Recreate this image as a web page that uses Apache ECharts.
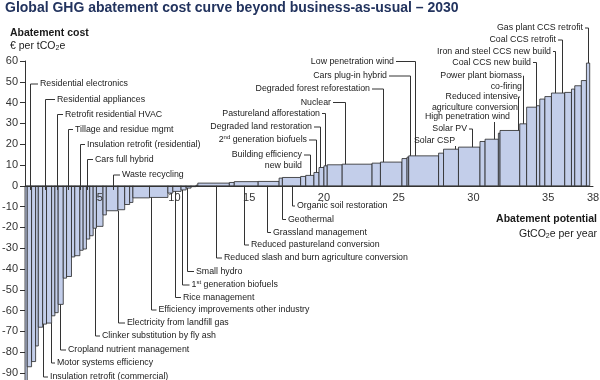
<!DOCTYPE html>
<html><head><meta charset="utf-8">
<script src="https://cdn.jsdelivr.net/npm/echarts@6/dist/echarts.min.js"></script>
<style>html,body{margin:0;padding:0;background:#fff;}#c{width:600px;height:380px;}</style>
</head><body><div id="c"></div>
<script>
// ---------- DATA ----------
// Width of each abatement lever (GtCO2e per year), left to right
const barWidths = [0.15,0.29,0.27,0.18,0.29,0.26,0.34,0.22,0.22,0.34,
  0.22,0.33,0.22,0.34,0.22,0.22,0.22,0.23,0.22,0.44,
  0.22,0.78,0.45,0.33,0.22,1.11,1.23,0.33,0.55,0.34,
  0.33,0.33,0.12,2.11,0.33,1.6,1.4,0.22,1.22,0.34,
  0.55,0.34,0.33,0.22,1.0,2.0,0.56,1.44,0.34,0.11,
  2.0,0.33,1.0,1.44,0.34,0.89,0.11,1.32,0.46,0.66,
  0.22,0.34,0.44,0.89,0.45,0.22,0.44,0.34,0.22];
// Abatement cost of each lever (€ per tCO2e)
const barCosts = [-95,-87,-84.5,-77,-68,-66.5,-66,-62.5,-61,-57,
  -44.4,-43.6,-34.2,-33.6,-31,-30.4,-25.6,-24,-20.4,-19.5,
  -14,-12,-11.5,-9,-8,-5.8,-5.6,-3.5,-2.7,-2,
  -1.1,-0.4,0.3,1.3,1.6,2.0,2.1,3.7,4.0,4.5,
  5.0,6.4,8.8,9.6,10.1,10.4,10.9,11.4,13.1,13.8,
  14.4,15.7,17.6,18.6,21.3,22.4,25.3,26.6,29.8,37.8,
  38.5,41.7,42.9,44.6,44.9,46.5,48.1,50.6,59];
const xTickLabels = [5,10,15,20,25,30,35,38];
const yTickLabels = [60,50,40,30,20,10,0,-10,-20,-30,-40,-50,-60,-70,-80,-90];

// Lever names and the abatement position (Gt) each label points to
const leverNames = [
  'Residential electronics','Residential appliances','Retrofit residential HVAC','Tillage and residue mgmt',
  'Insulation retrofit (residential)','Cars full hybrid','Waste recycling',
  'Insulation retrofit (commercial)','Motor systems efficiency','Cropland nutrient management',
  'Clinker substitution by fly ash','Electricity from landfill gas','Efficiency improvements other industry',
  'Rice management','1{sup|st} generation biofuels','Small hydro','Reduced slash and burn agriculture conversion',
  'Reduced pastureland conversion','Grassland management','Geothermal','Organic soil restoration',
  'Building efficiency\nnew build','2{sup|nd} generation biofuels','Degraded land restoration',
  'Pastureland afforestation','Nuclear','Degraded forest reforestation','Cars plug-in hybrid',
  'Low penetration wind','Solar CSP','Solar PV','High penetration wind',
  'Reduced intensive\nagriculture conversion','Power plant biomass\nco-firing','Coal CCS new build',
  'Iron and steel CCS new build','Coal CCS retrofit','Gas plant CCS retrofit'];
const leverTargets = [0.33,1.34,2.14,2.88,3.68,4.15,5.89,
  1.22,1.74,2.34,4.68,6.2,8.43,10.03,10.48,10.82,12.78,14.67,16.17,17.17,17.84,
  19.06,19.46,19.73,20.07,21.4,23.95,25.75,26.1,28.8,29.9,31.4,33.0,33.3,34.18,35.45,35.9,37.67];

// ---------- LAYOUT (pixels) ----------
// kind A: label right of a drop line; B: L-shaped line below; C: right-aligned label with line; D: line below label
const labelLayout = [
  ['A',40,84],['A',57,99.5],['A',65,114.5],['A',75,129.5],['A',87,144.5],['A',95,159.5],['A',122,175],
  ['B',50,377],['B',57,363],['B',68,350],['B',102,336],['B',127,323],['B',158.5,310],
  ['B',183,297.5],['B',191.5,285],['B',196,271.5],['B',224,258],['B',251,245],['B',273,232.5],['B',288,219.5],['B',297,206],
  ['C',302,155],['C',307,140],['C',312,127],['C',320,113.5],['C',331,102.5],['C',370,89],['C',387,76],['C',394,61.5],
  ['D',455,141],['C',467,129],['D',510,117],['C',518,97],['C',522,76],['C',531,62.5],['C',551,51.5],['C',556,40],['C',583,28]
];

const FONT = '"Liberation Sans", Arial, sans-serif';
const LFS = 8.8;
const GRID_TOP = 61, PX_PER_UNIT = 2.08, Y_MAX = 60;
const chart = echarts.init(document.getElementById('c'), null, {renderer:'canvas'});

let acc = 0;
const barData = barWidths.map((w,i)=>{ const s=acc; acc+=w; return [s, acc, barCosts[i]]; });

function costAt(v){
  for (const b of barData) if (v>=b[0] && v<b[1]) return b[2];
  return 0;
}

chart.setOption({
  animation:false,
  grid:{left:25, top:GRID_TOP, width:568, height:160*PX_PER_UNIT, containLabel:false, outerBoundsMode:'none'},
  xAxis:{type:'value', min:0, max:38, interval:1, z:5, position:'top', offset:-(Y_MAX*PX_PER_UNIT),
    axisLine:{show:true, onZero:false, lineStyle:{color:'#333', width:1}}, axisTick:{show:false}, splitLine:{show:false},
    axisLabel:{inside:true, fontSize:11, color:'#333', margin:7, fontFamily:FONT,
      formatter:v=> xTickLabels.indexOf(v)>=0 ? String(v) : ''}},
  yAxis:{type:'value', min:-100, max:60, interval:10,
    axisLine:{show:true, onZero:false, lineStyle:{color:'#333', width:1}},
    axisTick:{show:true, length:5, lineStyle:{color:'#333'}},
    splitLine:{show:false},
    axisLabel:{fontSize:11, color:'#333', margin:7, fontFamily:FONT,
      formatter:v=> yTickLabels.indexOf(v)>=0 ? String(v) : ''}},
  series:[{
    type:'custom', data:barData, encode:{x:[0,1], y:2},
    renderItem:function(params, api){
      const p0 = api.coord([api.value(0), 0]);
      const p1 = api.coord([api.value(1), api.value(2)]);
      return {type:'rect', shape:{x:p0[0], y:Math.min(p0[1],p1[1]), width:p1[0]-p0[0], height:Math.abs(p1[1]-p0[1])},
        style:{fill:'#c3ceea', stroke:'#262626', lineWidth:0.8}};
    }
  }]
});

const toPx = (v,c)=>chart.convertToPixel({gridIndex:0},[v,c]);
const rich = {sup:{fontSize:6, verticalAlign:'top', fontFamily:FONT, fill:'#1a1a1a'}};
const g = [];
const LC = '#333';
function line(pts){ g.push({type:'polyline', shape:{points:pts}, style:{stroke:LC, lineWidth:1, fill:null}, z:10}); }
function text(x,y,t,align){
  const multi = t.indexOf('\n')>=0;
  g.push({type:'text', x:x, y: multi ? y-5.5 : y, z:11,
    style:{text:t, fill:'#1a1a1a', font:LFS+'px '+FONT, fontSize:LFS, fontFamily:FONT,
      align:align, textAlign:align, verticalAlign: multi?'top':'middle', textVerticalAlign: multi?'top':'middle',
      lineHeight:11, rich:rich}});
}

leverNames.forEach((name,i)=>{
  const [kind, tx, ty] = labelLayout[i];
  const v = leverTargets[i];
  const c = costAt(v);
  const lx = Math.round(toPx(v,0)[0])+0.5;
  const zeroY = toPx(v,0)[1];
  const barY = toPx(v,c)[1];
  if (kind==='A'){
    const endY = toPx(v,-2)[1];
    line([[tx-2,ty],[lx,ty],[lx,endY]]);
    text(tx,ty,name,'left');
  } else if (kind==='B'){
    const startY = c<0 ? barY : zeroY;
    line([[lx,startY],[lx,ty],[tx-2,ty]]);
    text(tx,ty,name,'left');
  } else if (kind==='C'){
    line([[tx+2,ty],[lx,ty],[lx,barY]]);
    text(tx,ty,name,'right');
  } else {
    line([[lx,ty+5],[lx,barY]]);
    text(tx,ty,name,'right');
  }
});

// Titles
g.push({type:'text', x:5, y:8.5, style:{text:'Global GHG abatement cost curve beyond business-as-usual \u2013 2030',
  fill:'#22335e', font:'bold 14px '+FONT, fontWeight:'bold', fontSize:14, fontFamily:FONT,
  verticalAlign:'middle', textVerticalAlign:'middle'}});
g.push({type:'text', x:10, y:33.5, style:{text:'Abatement cost', fill:'#1a1a1a', font:'bold 10.5px '+FONT,
  fontWeight:'bold', fontSize:10.5, fontFamily:FONT, verticalAlign:'middle', textVerticalAlign:'middle'}});
g.push({type:'text', x:10, y:46, style:{text:'\u20ac per tCO{sub|2}e', fill:'#1a1a1a', font:'10.5px '+FONT,
  fontSize:10.5, fontFamily:FONT, verticalAlign:'middle', textVerticalAlign:'middle',
  rich:{sub:{fontSize:7, verticalAlign:'bottom', padding:[5,0,0,0], fontFamily:FONT, fill:'#1a1a1a'}}}});
g.push({type:'text', x:597, y:219, style:{text:'Abatement potential', fill:'#1a1a1a', font:'bold 10.5px '+FONT,
  fontWeight:'bold', fontSize:10.5, fontFamily:FONT, align:'right', textAlign:'right', verticalAlign:'middle', textVerticalAlign:'middle'}});
g.push({type:'text', x:597, y:234, style:{text:'GtCO{sub|2}e per year', fill:'#1a1a1a', font:'10.5px '+FONT,
  fontSize:10.5, fontFamily:FONT, align:'right', textAlign:'right', verticalAlign:'middle', textVerticalAlign:'middle',
  rich:{sub:{fontSize:7, verticalAlign:'bottom', padding:[5,0,0,0], fontFamily:FONT, fill:'#1a1a1a'}}}});

chart.setOption({graphic:{elements:g}});
</script></body></html>
